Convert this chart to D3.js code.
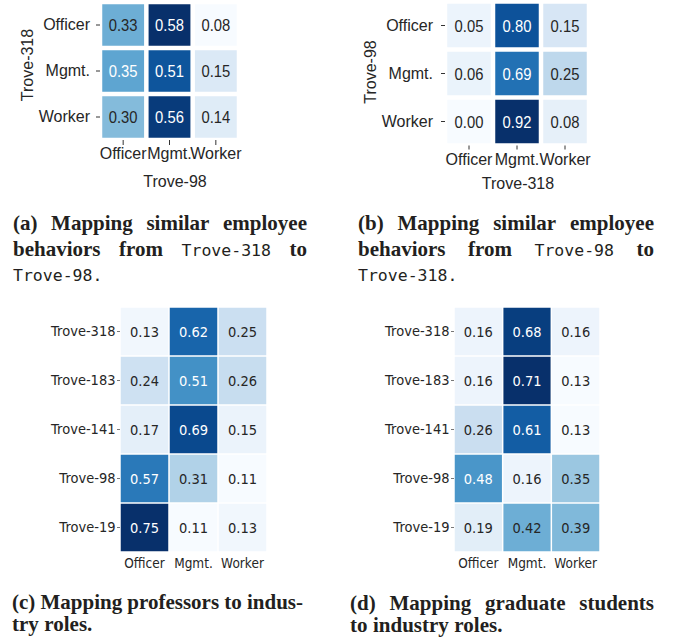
<!DOCTYPE html>
<html>
<head>
<meta charset="utf-8">
<script src="https://cdn.jsdelivr.net/npm/d3@7"></script>
<style>
  body { margin: 0; background: #fff; }
</style>
</head>
<body>
<svg id="chart" width="676" height="637"></svg>
<script>
// categories
const roles = ["Officer", "Mgmt.", "Worker"];
const troves = ["Trove-318", "Trove-183", "Trove-141", "Trove-98", "Trove-19"];

// (a) Trove-318 -> Trove-98
const valsA = [
  [0.33, 0.58, 0.08],
  [0.35, 0.51, 0.15],
  [0.30, 0.56, 0.14]
];
// (b) Trove-98 -> Trove-318
const valsB = [
  [0.05, 0.80, 0.15],
  [0.06, 0.69, 0.25],
  [0.00, 0.92, 0.08]
];
// (c) professors -> industry roles
const valsC = [
  [0.13, 0.62, 0.25],
  [0.24, 0.51, 0.26],
  [0.17, 0.69, 0.15],
  [0.57, 0.31, 0.11],
  [0.75, 0.11, 0.13]
];
// (d) graduate students -> industry roles
const valsD = [
  [0.16, 0.68, 0.16],
  [0.16, 0.71, 0.13],
  [0.26, 0.61, 0.13],
  [0.48, 0.16, 0.35],
  [0.19, 0.42, 0.39]
];

const svg = d3.select("#chart");
svg.append("rect").attr("width", 676).attr("height", 637).attr("fill", "#fff");

const heatmap = (cfg) => {
  const g = svg.append("g");
  const x = d3.scaleBand().domain(cfg.cols).range([cfg.x0, cfg.x1]);
  const y = d3.scaleBand().domain(cfg.rows).range([cfg.y0, cfg.y1]);
  const ext = d3.extent(cfg.vals.flat());
  const color = d3.scaleSequential(d3.interpolateBlues).domain(ext);
  const cells = cfg.vals.flatMap((row, i) => row.map((v, j) => ({ r: cfg.rows[i], c: cfg.cols[j], v })));
  const gap = cfg.gap / 2;

  g.selectAll("rect.cell")
    .data(cells)
    .enter()
    .append("rect")
    .attr("class", "cell")
    .attr("x", (d) => x(d.c) + gap)
    .attr("y", (d) => y(d.r) + gap)
    .attr("width", x.bandwidth() - 2 * gap)
    .attr("height", y.bandwidth() - 2 * gap)
    .attr("fill", (d) => color(d.v));

  // numbers are a bit narrow in the original, hence the x squeeze
  g.selectAll("text.val")
    .data(cells)
    .enter()
    .append("text")
    .attr("class", "val")
    .attr("transform", (d) => `translate(${x(d.c) + x.bandwidth() / 2},${y(d.r) + y.bandwidth() / 2}) scale(${cfg.numSqueeze},1)`)
    .attr("dy", "0.36em")
    .attr("text-anchor", "middle")
    .attr("font-family", cfg.font)
    .attr("font-size", cfg.numSize)
    .attr("fill", (d) => ((d.v - ext[0]) / (ext[1] - ext[0]) > 0.52 ? "#ffffff" : "#262626"))
    .text((d) => d.v.toFixed(2));

  // y axis
  const ya = g.append("g")
    .attr("transform", `translate(${cfg.x0},0)`)
    .call(d3.axisLeft(y).tickSize(cfg.yTick).tickPadding(cfg.yPad));
  ya.select(".domain").remove();
  ya.selectAll("line").attr("stroke", cfg.tickColor);
  ya.selectAll("text")
    .attr("font-family", cfg.font)
    .attr("font-size", cfg.labelSize)
    .attr("transform", `scale(${cfg.labelSqueeze},1)`)
    .attr("fill", "#262626");

  // x axis
  const xa = g.append("g")
    .attr("transform", `translate(0,${cfg.y1})`)
    .call(d3.axisBottom(x).tickSize(cfg.xTick).tickPadding(cfg.xPad));
  xa.select(".domain").remove();
  xa.selectAll("line").attr("stroke", cfg.tickColor);
  xa.selectAll("text")
    .attr("font-family", cfg.font)
    .attr("font-size", cfg.xLabelSize)
    .attr("transform", `scale(${cfg.labelSqueeze},1)`)
    .attr("fill", "#262626");

  if (cfg.xTitle) {
    g.append("text")
      .attr("x", cfg.xTitle[1])
      .attr("y", cfg.xTitle[2])
      .attr("text-anchor", "middle")
      .attr("font-family", cfg.font)
      .attr("font-size", cfg.labelSize)
      .attr("fill", "#262626")
      .text(cfg.xTitle[0]);
  }
  if (cfg.yTitle) {
    g.append("text")
      .attr("transform", `translate(${cfg.yTitle[1]},${cfg.yTitle[2]}) rotate(-90)`)
      .attr("text-anchor", "middle")
      .attr("font-family", cfg.font)
      .attr("font-size", cfg.labelSize)
      .attr("fill", "#262626")
      .text(cfg.yTitle[0]);
  }
};

const sans = "'Liberation Sans', Arial, sans-serif";
const dejavu = "'DejaVu Sans', sans-serif";

heatmap({
  rows: roles, cols: roles, vals: valsA,
  x0: 100, x1: 239, y0: 2, y1: 140, gap: 4.5,
  font: sans, numSize: 17, numSqueeze: 0.87, labelSize: 16, xLabelSize: 16, labelSqueeze: 1,
  yTick: 4, yPad: 6, xTick: 5, xPad: 3, tickColor: "#333",
  xTitle: ["Trove-98", 175, 187], yTitle: ["Trove-318", 33, 65]
});

heatmap({
  rows: roles, cols: roles, vals: valsB,
  x0: 445, x1: 589, y0: 1.5, y1: 145.5, gap: 4.5,
  font: sans, numSize: 17, numSqueeze: 0.87, labelSize: 16, xLabelSize: 16, labelSqueeze: 1,
  yTick: 4, yPad: 8, xTick: 4, xPad: 4, tickColor: "#333",
  xTitle: ["Trove-318", 518, 189], yTitle: ["Trove-98", 376, 72]
});

heatmap({
  rows: troves, cols: roles, vals: valsC,
  x0: 120, x1: 267, y0: 307, y1: 552, gap: 1.5,
  font: dejavu, numSize: 14.5, numSqueeze: 0.9, labelSize: 14.5, xLabelSize: 13.5, labelSqueeze: 0.9,
  yTick: 3, yPad: 2, xTick: 0, xPad: 6, tickColor: "#777"
});

heatmap({
  rows: troves, cols: roles, vals: valsD,
  x0: 454, x1: 600, y0: 307, y1: 552, gap: 1.5,
  font: dejavu, numSize: 14.5, numSqueeze: 0.9, labelSize: 14.5, xLabelSize: 13.5, labelSqueeze: 0.9,
  yTick: 3, yPad: 2, xTick: 0, xPad: 6, tickColor: "#777"
});

// captions: words in backticks are set in monospace
const serifFont = "'Liberation Serif', 'Times New Roman', serif";
const monoFont = "'DejaVu Sans Mono', monospace";

const caption = (lines, x0, x1, y0, lh) => {
  const g = svg.append("g");
  lines.forEach((line, li) => {
    const words = line.text.split(" ").map((w) => {
      const mono = w.startsWith("`");
      const t = g.append("text")
        .attr("y", y0 + li * lh)
        .attr("font-family", mono ? monoFont : serifFont)
        .attr("font-weight", mono ? "normal" : "bold")
        .attr("font-size", mono ? 16.5 : 21)
        .attr("fill", "#231f20")
        .text(w.replace(/`/g, ""));
      return { t, w: t.node().getComputedTextLength() };
    });
    const total = d3.sum(words, (d) => d.w);
    const space = line.justify && words.length > 1
      ? (x1 - x0 - total) / (words.length - 1)
      : 5.5;
    let cx = x0;
    words.forEach((d) => {
      d.t.attr("x", cx);
      cx += d.w + space;
    });
  });
};

caption([
  { text: "(a) Mapping similar employee", justify: true },
  { text: "behaviors from `Trove-318` to", justify: true },
  { text: "`Trove-98.`", justify: false }
], 13, 307, 230, 25.5);

caption([
  { text: "(b) Mapping similar employee", justify: true },
  { text: "behaviors from `Trove-98` to", justify: true },
  { text: "`Trove-318.`", justify: false }
], 358, 654, 230, 25.5);

caption([
  { text: "(c) Mapping professors to indus-", justify: true },
  { text: "try roles.", justify: false }
], 12, 303, 609, 22);

caption([
  { text: "(d) Mapping graduate students", justify: true },
  { text: "to industry roles.", justify: false }
], 350, 654, 610, 22);
</script>
</body>
</html>
